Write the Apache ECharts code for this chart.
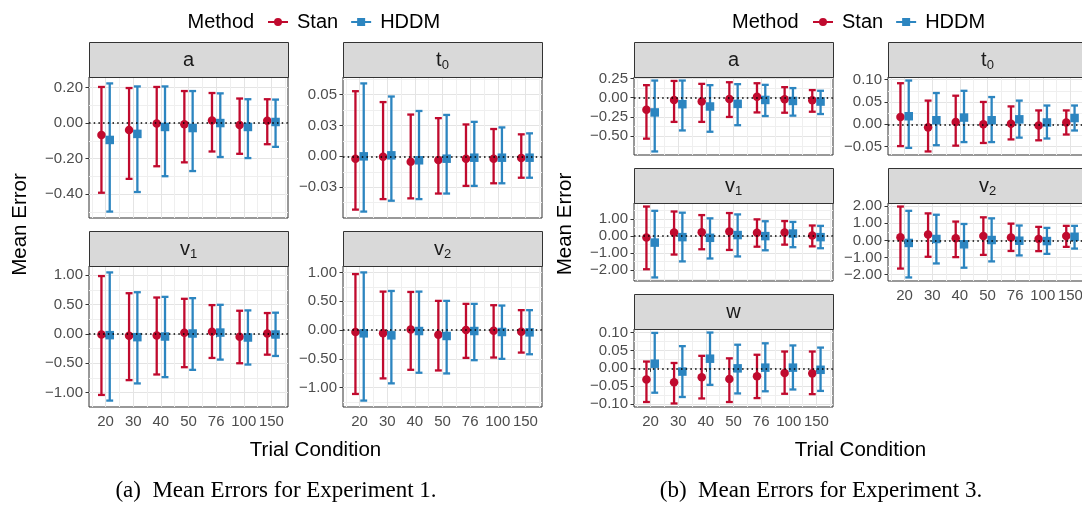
<!DOCTYPE html>
<html><head><meta charset="utf-8">
<script src="https://cdn.jsdelivr.net/npm/echarts@6/dist/echarts.min.js"></script>
<style>html,body{margin:0;padding:0;background:#fff}#c{width:1082px;height:510px}</style>
</head><body><div id="c"></div>
<script>
// ---------- data ----------
const categories = ['20','30','40','50','76','100','150'];

// Experiment 1
const e1_a_stan_mean = [-0.067, -0.039, -0.002, -0.007, 0.015, -0.011, 0.013];
const e1_a_stan_lo   = [-0.392, -0.314, -0.243, -0.221, -0.160, -0.173, -0.119];
const e1_a_stan_hi   = [0.203, 0.197, 0.203, 0.180, 0.169, 0.138, 0.134];
const e1_a_hddm_mean = [-0.095, -0.061, -0.022, -0.028, 0.000, -0.022, 0.006];
const e1_a_hddm_lo   = [-0.498, -0.388, -0.299, -0.270, -0.191, -0.197, -0.134];
const e1_a_hddm_hi   = [0.223, 0.206, 0.206, 0.180, 0.167, 0.134, 0.132];
const e1_a_ticks = [-0.4, -0.2, 0, 0.2];
const e1_a_tickLabels = ['\u22120.40', '\u22120.20', '0.00', '0.20'];

const e1_t0_stan_mean = [-0.0019, -0.0003, -0.0043, -0.0029, -0.0019, -0.0019, -0.0013];
const e1_t0_stan_lo   = [-0.0431, -0.0346, -0.0340, -0.0301, -0.0239, -0.0218, -0.0173];
const e1_t0_stan_hi   = [0.0527, 0.0439, 0.0338, 0.0309, 0.0258, 0.0221, 0.0178];
const e1_t0_hddm_mean = [0.0000, 0.0008, -0.0032, -0.0019, -0.0011, -0.0011, -0.0011];
const e1_t0_hddm_lo   = [-0.0447, -0.0359, -0.0346, -0.0301, -0.0239, -0.0218, -0.0173];
const e1_t0_hddm_hi   = [0.0590, 0.0484, 0.0367, 0.0335, 0.0279, 0.0234, 0.0186];
const e1_t0_ticks = [-0.025, 0, 0.025, 0.05];
const e1_t0_tickLabels = ['\u22120.03', '0.00', '0.03', '0.05'];

const e1_v1_stan_mean = [-0.011, -0.034, -0.028, 0.017, 0.034, -0.051, 0.006];
const e1_v1_stan_lo   = [-1.039, -0.787, -0.691, -0.567, -0.410, -0.500, -0.354];
const e1_v1_stan_hi   = [0.983, 0.691, 0.618, 0.596, 0.489, 0.393, 0.354];
const e1_v1_hddm_mean = [-0.022, -0.056, -0.045, 0.006, 0.022, -0.062, -0.011];
const e1_v1_hddm_lo   = [-1.135, -0.843, -0.736, -0.612, -0.438, -0.522, -0.376];
const e1_v1_hddm_hi   = [1.045, 0.708, 0.629, 0.607, 0.494, 0.399, 0.360];
const e1_v1_ticks = [-1, -0.5, 0, 0.5, 1];
const e1_v1_tickLabels = ['\u22121.00', '\u22120.50', '0.00', '0.50', '1.00'];

const e1_v2_stan_mean = [-0.034, -0.057, 0.011, -0.080, 0.000, -0.011, -0.029];
const e1_v2_stan_lo   = [-1.109, -0.839, -0.690, -0.701, -0.483, -0.477, -0.391];
const e1_v2_stan_hi   = [0.971, 0.667, 0.661, 0.506, 0.454, 0.431, 0.345];
const e1_v2_hddm_mean = [-0.057, -0.092, -0.017, -0.103, -0.017, -0.034, -0.040];
const e1_v2_hddm_lo   = [-1.224, -0.925, -0.741, -0.753, -0.523, -0.500, -0.420];
const e1_v2_hddm_hi   = [1.000, 0.678, 0.667, 0.506, 0.454, 0.425, 0.345];
const e1_v2_ticks = [-1, -0.5, 0, 0.5, 1];
const e1_v2_tickLabels = ['\u22121.00', '\u22120.50', '0.00', '0.50', '1.00'];

// Experiment 3
const e3_a_stan_mean = [-0.158, -0.030, -0.051, -0.017, 0.013, -0.021, -0.034];
const e3_a_stan_lo   = [-0.533, -0.315, -0.315, -0.251, -0.192, -0.196, -0.183];
const e3_a_stan_hi   = [0.162, 0.217, 0.179, 0.200, 0.187, 0.136, 0.098];
const e3_a_hddm_mean = [-0.192, -0.085, -0.115, -0.081, -0.030, -0.043, -0.051];
const e3_a_hddm_lo   = [-0.699, -0.426, -0.443, -0.358, -0.239, -0.234, -0.213];
const e3_a_hddm_hi   = [0.222, 0.222, 0.162, 0.175, 0.166, 0.124, 0.089];
const e3_a_ticks = [-0.5, -0.25, 0, 0.25];
const e3_a_tickLabels = ['\u22120.50', '\u22120.25', '0.00', '0.25'];

const e3_t0_stan_mean = [0.016, -0.007, 0.005, 0.000, 0.001, -0.003, 0.004];
const e3_t0_stan_lo   = [-0.049, -0.061, -0.048, -0.042, -0.034, -0.036, -0.023];
const e3_t0_stan_hi   = [0.092, 0.053, 0.064, 0.050, 0.040, 0.031, 0.031];
const e3_t0_hddm_mean = [0.018, 0.009, 0.015, 0.009, 0.011, 0.004, 0.014];
const e3_t0_hddm_lo   = [-0.053, -0.047, -0.040, -0.040, -0.030, -0.032, -0.014];
const e3_t0_hddm_hi   = [0.098, 0.070, 0.075, 0.061, 0.053, 0.042, 0.042];
const e3_t0_ticks = [-0.05, 0, 0.05, 0.1];
const e3_t0_tickLabels = ['\u22120.05', '0.00', '0.05', '0.10'];

const e3_v1_stan_mean = [-0.08, 0.21, 0.23, 0.27, 0.19, 0.21, 0.04];
const e3_v1_stan_lo   = [-1.94, -1.08, -0.77, -0.81, -0.62, -0.50, -0.60];
const e3_v1_stan_hi   = [1.73, 1.44, 1.23, 1.35, 0.98, 0.88, 0.62];
const e3_v1_hddm_mean = [-0.38, -0.06, -0.10, 0.06, 0.00, 0.15, -0.06];
const e3_v1_hddm_lo   = [-2.42, -1.48, -1.31, -1.19, -0.83, -0.65, -0.71];
const e3_v1_hddm_hi   = [1.48, 1.37, 1.04, 1.27, 0.87, 0.83, 0.60];
const e3_v1_ticks = [-2, -1, 0, 1];
const e3_v1_tickLabels = ['\u22122.00', '\u22121.00', '0.00', '1.00'];

const e3_v2_stan_mean = [0.19, 0.35, 0.13, 0.25, 0.17, 0.08, 0.25];
const e3_v2_stan_lo   = [-1.65, -0.96, -0.98, -0.85, -0.62, -0.63, -0.38];
const e3_v2_stan_hi   = [1.98, 1.58, 1.10, 1.35, 0.98, 0.79, 0.85];
const e3_v2_hddm_mean = [-0.15, 0.08, -0.23, 0.02, -0.02, -0.04, 0.21];
const e3_v2_hddm_lo   = [-2.17, -1.35, -1.60, -1.23, -0.88, -0.79, -0.48];
const e3_v2_hddm_hi   = [1.73, 1.50, 0.96, 1.29, 0.87, 0.73, 0.85];
const e3_v2_ticks = [-2, -1, 0, 1, 2];
const e3_v2_tickLabels = ['\u22122.00', '\u22121.00', '0.00', '1.00', '2.00'];

const e3_w_stan_mean = [-0.031, -0.039, -0.025, -0.030, -0.022, -0.013, -0.014];
const e3_w_stan_lo   = [-0.094, -0.098, -0.084, -0.094, -0.083, -0.071, -0.072];
const e3_w_stan_hi   = [0.019, 0.015, 0.035, 0.028, 0.038, 0.047, 0.047];
const e3_w_hddm_mean = [0.013, -0.009, 0.027, 0.000, 0.002, 0.002, -0.004];
const e3_w_hddm_lo   = [-0.068, -0.080, -0.046, -0.070, -0.064, -0.059, -0.063];
const e3_w_hddm_hi   = [0.099, 0.062, 0.100, 0.066, 0.070, 0.064, 0.058];
const e3_w_ticks = [-0.1, -0.05, 0, 0.05, 0.1];
const e3_w_tickLabels = ['\u22120.10', '\u22120.05', '0.00', '0.05', '0.10'];

// ---------- style / layout ----------
const RED = '#C00A2E', BLUE = '#2C85C0';
const FONT = '"Liberation Sans", Arial, Helvetica, sans-serif';
const SERIF = '"Liberation Serif", "Times New Roman", serif';
const DODGE = 0.15, CAP = 0.25;

const panels = [
  {main:'a', sub:'',  gx:89,  gy:77,  gw:199, gh:141, xlab:false, ticks:e1_a_ticks,  tl:e1_a_tickLabels,
   s:[e1_a_stan_mean,e1_a_stan_lo,e1_a_stan_hi], h:[e1_a_hddm_mean,e1_a_hddm_lo,e1_a_hddm_hi]},
  {main:'t', sub:'0', gx:343, gy:77,  gw:199, gh:141, xlab:false, ticks:e1_t0_ticks, tl:e1_t0_tickLabels,
   s:[e1_t0_stan_mean,e1_t0_stan_lo,e1_t0_stan_hi], h:[e1_t0_hddm_mean,e1_t0_hddm_lo,e1_t0_hddm_hi]},
  {main:'v', sub:'1', gx:89,  gy:266, gw:199, gh:141, xlab:true, ticks:e1_v1_ticks, tl:e1_v1_tickLabels,
   s:[e1_v1_stan_mean,e1_v1_stan_lo,e1_v1_stan_hi], h:[e1_v1_hddm_mean,e1_v1_hddm_lo,e1_v1_hddm_hi]},
  {main:'v', sub:'2', gx:343, gy:266, gw:199, gh:141, xlab:true, ticks:e1_v2_ticks, tl:e1_v2_tickLabels,
   s:[e1_v2_stan_mean,e1_v2_stan_lo,e1_v2_stan_hi], h:[e1_v2_hddm_mean,e1_v2_hddm_lo,e1_v2_hddm_hi]},
  {main:'a', sub:'',  gx:634, gy:77,  gw:199, gh:78, xlab:false, ticks:e3_a_ticks, tl:e3_a_tickLabels,
   s:[e3_a_stan_mean,e3_a_stan_lo,e3_a_stan_hi], h:[e3_a_hddm_mean,e3_a_hddm_lo,e3_a_hddm_hi]},
  {main:'t', sub:'0', gx:888, gy:77,  gw:199, gh:78, xlab:false, ticks:e3_t0_ticks, tl:e3_t0_tickLabels,
   s:[e3_t0_stan_mean,e3_t0_stan_lo,e3_t0_stan_hi], h:[e3_t0_hddm_mean,e3_t0_hddm_lo,e3_t0_hddm_hi]},
  {main:'v', sub:'1', gx:634, gy:203, gw:199, gh:78, xlab:false, ticks:e3_v1_ticks, tl:e3_v1_tickLabels,
   s:[e3_v1_stan_mean,e3_v1_stan_lo,e3_v1_stan_hi], h:[e3_v1_hddm_mean,e3_v1_hddm_lo,e3_v1_hddm_hi]},
  {main:'v', sub:'2', gx:888, gy:203, gw:199, gh:78, xlab:true, ticks:e3_v2_ticks, tl:e3_v2_tickLabels,
   s:[e3_v2_stan_mean,e3_v2_stan_lo,e3_v2_stan_hi], h:[e3_v2_hddm_mean,e3_v2_hddm_lo,e3_v2_hddm_hi]},
  {main:'w', sub:'',  gx:634, gy:329, gw:199, gh:78, xlab:true, ticks:e3_w_ticks, tl:e3_w_tickLabels,
   s:[e3_w_stan_mean,e3_w_stan_lo,e3_w_stan_hi], h:[e3_w_hddm_mean,e3_w_hddm_lo,e3_w_hddm_hi]}
];
const STRIP_H = 35;

const xMajor = categories.map((c, i) => i + 1);
const xMinor = categories.map((c, i) => i + 0.5).concat([categories.length + 0.5]);

function errRender(params, api) {
  const x = api.value(0), lo = api.value(1), hi = api.value(2);
  const a = api.coord([x, lo]), b = api.coord([x, hi]);
  const half = api.size([CAP, 0])[0] / 2;
  const st = {stroke: api.visual('color'), lineWidth: 2.3, fill: null};
  return {type: 'group', children: [
    {type: 'line', shape: {x1: a[0], y1: a[1], x2: b[0], y2: b[1]}, style: st},
    {type: 'line', shape: {x1: a[0] - half, y1: a[1], x2: a[0] + half, y2: a[1]}, style: st},
    {type: 'line', shape: {x1: b[0] - half, y1: b[1], x2: b[0] + half, y2: b[1]}, style: st}
  ]};
}

const grids = [], xAxes = [], yAxes = [], series = [], graphics = [];

panels.forEach((p, i) => {
  const allLo = p.s[1].concat(p.h[1]), allHi = p.s[2].concat(p.h[2]);
  const dmin = Math.min.apply(null, allLo), dmax = Math.max.apply(null, allHi);
  const pad = 0.05 * (dmax - dmin);
  const ymin = dmin - pad, ymax = dmax + pad;
  const step = p.ticks[1] - p.ticks[0];
  const yMinor = p.ticks.map(t => t - step / 2).concat([p.ticks[p.ticks.length - 1] + step / 2]);

  grids.push({left: p.gx, top: p.gy, width: p.gw, height: p.gh, show: true,
    borderColor: '#333333', borderWidth: 1, backgroundColor: '#ffffff',
    containLabel: false, outerBoundsMode: 'none'});

  xAxes.push({type: 'value', gridIndex: i, min: 0.4, max: 7.6, position: 'bottom',
    axisLine: {show: false},
    axisTick: {show: p.xlab, length: 3.5, lineStyle: {color: '#333333', width: 1}, customValues: xMajor},
    axisLabel: {show: p.xlab, customValues: xMajor, margin: 7, color: '#4D4D4D', fontSize: 15, fontFamily: FONT,
      formatter: v => categories[Math.round(v) - 1] || ''},
    splitLine: {show: true, lineStyle: {color: '#E4E4E4', width: 1}}});
  xAxes.push({type: 'value', gridIndex: i, min: 0.4, max: 7.6, position: 'top',
    axisLine: {show: false}, axisTick: {show: false, customValues: xMinor}, axisLabel: {show: false},
    splitLine: {show: true, lineStyle: {color: '#EFEFEF', width: 1}}});

  yAxes.push({type: 'value', gridIndex: i, min: ymin, max: ymax, position: 'left',
    axisLine: {show: false},
    axisTick: {show: true, length: 3.5, lineStyle: {color: '#333333', width: 1}, customValues: p.ticks},
    axisLabel: {show: true, customValues: p.ticks, margin: 6, color: '#4D4D4D', fontSize: 15, fontFamily: FONT,
      formatter: v => { const k = p.ticks.findIndex(t => Math.abs(t - v) < 1e-7); return k >= 0 ? p.tl[k] : ''; }},
    splitLine: {show: true, lineStyle: {color: '#E4E4E4', width: 1}}});
  yAxes.push({type: 'value', gridIndex: i, min: ymin, max: ymax, position: 'right',
    axisLine: {show: false}, axisTick: {show: false, customValues: yMinor}, axisLabel: {show: false},
    splitLine: {show: true, lineStyle: {color: '#EFEFEF', width: 1}}});

  const xi = 2 * i, yi = 2 * i;
  series.push({type: 'line', name: 'zero' + i, xAxisIndex: xi, yAxisIndex: yi, data: [], z: 1, silent: true,
    markLine: {silent: true, symbol: ['none', 'none'], label: {show: false}, animation: false,
      lineStyle: {color: '#000000', width: 1.5, type: [1.5, 3.2]}, emphasis: {disabled: true},
      data: [{yAxis: 0}]}});
  const methods = [[p.s, 'Stan', RED, -DODGE, 'circle', 8.5], [p.h, 'HDDM', BLUE, DODGE, 'rect', 8.5]];
  methods.forEach(m => {
    const [vals, name, col, off] = m;
    series.push({type: 'custom', name: name, xAxisIndex: xi, yAxisIndex: yi, z: 2, silent: true,
      itemStyle: {color: col}, renderItem: errRender, encode: {x: 0, y: [1, 2]},
      data: categories.map((c, k) => [k + 1 + off, vals[1][k], vals[2][k]])});
  });
  methods.forEach(m => {
    const [vals, name, col, off, sym, size] = m;
    series.push({type: 'scatter', name: name, xAxisIndex: xi, yAxisIndex: yi, z: 3, silent: true,
      symbol: sym, symbolSize: size, itemStyle: {color: col, opacity: 1},
      data: categories.map((c, k) => [k + 1 + off, vals[0][k]])});
  });

  // strip
  const sy = p.gy - STRIP_H;
  graphics.push({type: 'rect', z: 10, silent: true,
    shape: {x: p.gx + 0.5, y: sy + 0.5, width: p.gw, height: STRIP_H},
    style: {fill: '#D9D9D9', stroke: '#333333', lineWidth: 1}});
  const cx = p.gx + p.gw / 2, cy = sy + STRIP_H / 2;
  if (!p.sub) {
    graphics.push({type: 'text', z: 11, silent: true, x: cx, y: cy + 0.5,
      style: {text: p.main, fontSize: 20, fontFamily: FONT, fill: '#1A1A1A', textAlign: 'center', textVerticalAlign: 'middle'}});
  } else {
    const mw = p.main === 't' ? 5.6 : 10, sw = 7.2;
    const x0 = cx - (mw + sw) / 2;
    graphics.push({type: 'text', z: 11, silent: true, x: x0, y: cy + 0.5,
      style: {text: p.main, fontSize: 20, fontFamily: FONT, fill: '#1A1A1A', textAlign: 'left', textVerticalAlign: 'middle'}});
    graphics.push({type: 'text', z: 11, silent: true, x: x0 + mw, y: cy + 5.5,
      style: {text: p.sub, fontSize: 13, fontFamily: FONT, fill: '#1A1A1A', textAlign: 'left', textVerticalAlign: 'middle'}});
  }
});

// legend titles, axis titles, captions
function txt(t, x, y, size, opts) {
  return Object.assign({type: 'text', silent: true, z: 11, x: x, y: y,
    style: {text: t, fontSize: size, fontFamily: FONT, fill: '#000000', textAlign: 'center', textVerticalAlign: 'middle'}}, opts || {});
}
graphics.push(txt('Method', 187.5, 22, 20, {style: {text: 'Method', fontSize: 20, fontFamily: FONT, fill: '#000', textAlign: 'left', textVerticalAlign: 'middle'}}));
graphics.push(txt('Method', 732, 22, 20, {style: {text: 'Method', fontSize: 20, fontFamily: FONT, fill: '#000', textAlign: 'left', textVerticalAlign: 'middle'}}));
graphics.push(txt('Mean Error', 20.5, 224.5, 20.5, {rotation: Math.PI / 2}));
graphics.push(txt('Mean Error', 565, 224, 20.5, {rotation: Math.PI / 2}));
graphics.push(txt('Trial Condition', 315.5, 450, 20.5));
graphics.push(txt('Trial Condition', 860.5, 450, 20.5));
graphics.push({type: 'text', silent: true, x: 276, y: 491,
  style: {text: '(a)  Mean Errors for Experiment 1.', fontSize: 23, fontFamily: SERIF, fill: '#000', textAlign: 'center', textVerticalAlign: 'middle'}});
graphics.push({type: 'text', silent: true, x: 821, y: 491,
  style: {text: '(b)  Mean Errors for Experiment 3.', fontSize: 23, fontFamily: SERIF, fill: '#000', textAlign: 'center', textVerticalAlign: 'middle'}});

const iconStan = 'path://M0,3H20V5H0Z M14,4A4,4,0,1,1,6,4A4,4,0,1,1,14,4Z';
const iconHddm = 'path://M0,3H20V5H0Z M6,0H14V8H6Z';
function legend(left) {
  return {left: left, top: 10, padding: 0, orient: 'horizontal', itemWidth: 20, itemHeight: 8, itemGap: 13,
    selectedMode: false,
    textStyle: {fontSize: 20, fontFamily: FONT, color: '#000', lineHeight: 24, padding: [0, 0, 0, 4]},
    data: [{name: 'Stan', icon: iconStan}, {name: 'HDDM', icon: iconHddm}]};
}

const chart = echarts.init(document.getElementById('c'), null, {renderer: 'canvas'});
chart.setOption({
  animation: false,
  backgroundColor: '#ffffff',
  grid: grids, xAxis: xAxes, yAxis: yAxes, series: series,
  legend: [legend(268), legend(813)],
  graphic: graphics
});
</script></body></html>
